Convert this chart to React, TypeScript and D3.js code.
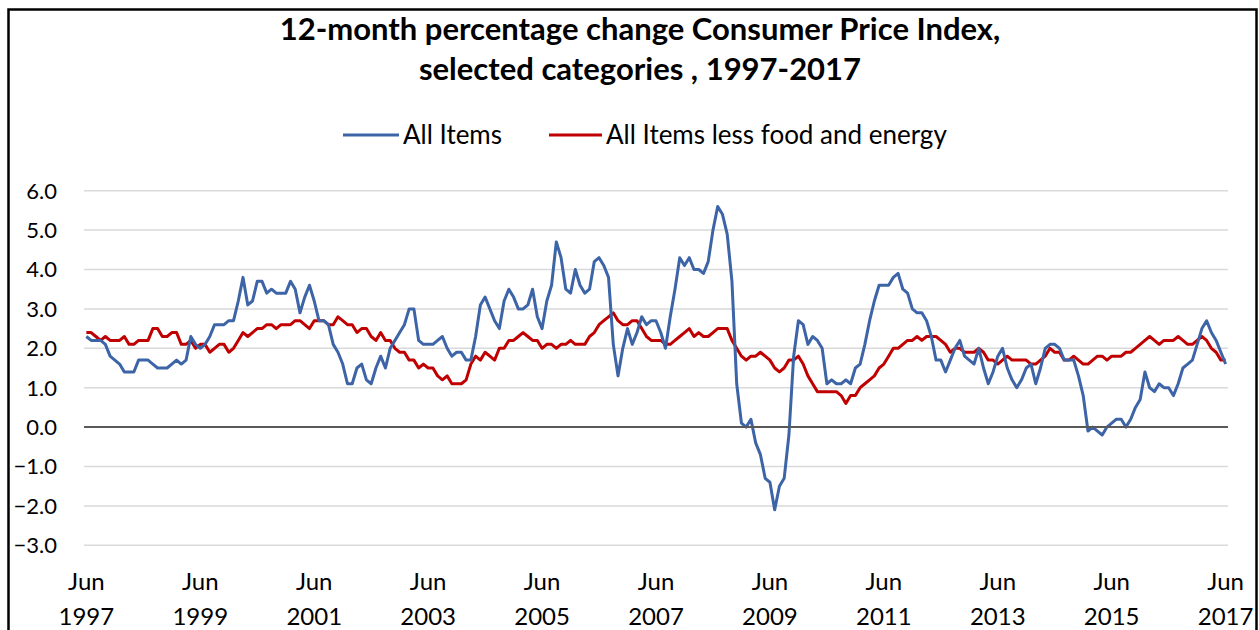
import * as d3 from 'd3';

// monthly 12-month % changes, Jun 1997 .. Jun 2017
const allItems = [
  2.3, 2.2, 2.2, 2.2, 2.1, 1.8, 1.7,
  1.6, 1.4, 1.4, 1.4, 1.7, 1.7, 1.7, 1.6, 1.5, 1.5, 1.5, 1.6,
  1.7, 1.6, 1.7, 2.3, 2.1, 2.0, 2.1, 2.3, 2.6, 2.6, 2.6, 2.7,
  2.7, 3.2, 3.8, 3.1, 3.2, 3.7, 3.7, 3.4, 3.5, 3.4, 3.4, 3.4,
  3.7, 3.5, 2.9, 3.3, 3.6, 3.2, 2.7, 2.7, 2.6, 2.1, 1.9, 1.6,
  1.1, 1.1, 1.5, 1.6, 1.2, 1.1, 1.5, 1.8, 1.5, 2.0, 2.2, 2.4,
  2.6, 3.0, 3.0, 2.2, 2.1, 2.1, 2.1, 2.2, 2.3, 2.0, 1.8, 1.9,
  1.9, 1.7, 1.7, 2.3, 3.1, 3.3, 3.0, 2.7, 2.5, 3.2, 3.5, 3.3,
  3.0, 3.0, 3.1, 3.5, 2.8, 2.5, 3.2, 3.6, 4.7, 4.3, 3.5, 3.4,
  4.0, 3.6, 3.4, 3.5, 4.2, 4.3, 4.1, 3.8, 2.1, 1.3, 2.0, 2.5,
  2.1, 2.4, 2.8, 2.6, 2.7, 2.7, 2.4, 2.0, 2.8, 3.5, 4.3, 4.1,
  4.3, 4.0, 4.0, 3.9, 4.2, 5.0, 5.6, 5.4, 4.9, 3.7, 1.1, 0.1,
  0.0, 0.2, -0.4, -0.7, -1.3, -1.4, -2.1, -1.5, -1.3, -0.2, 1.8, 2.7,
  2.6, 2.1, 2.3, 2.2, 2.0, 1.1, 1.2, 1.1, 1.1, 1.2, 1.1, 1.5,
  1.6, 2.1, 2.7, 3.2, 3.6, 3.6, 3.6, 3.8, 3.9, 3.5, 3.4, 3.0,
  2.9, 2.9, 2.7, 2.3, 1.7, 1.7, 1.4, 1.7, 2.0, 2.2, 1.8, 1.7,
  1.6, 2.0, 1.5, 1.1, 1.4, 1.8, 2.0, 1.5, 1.2, 1.0, 1.2, 1.5,
  1.6, 1.1, 1.5, 2.0, 2.1, 2.1, 2.0, 1.7, 1.7, 1.7, 1.3, 0.8,
  -0.1, 0.0, -0.1, -0.2, 0.0, 0.1, 0.2, 0.2, 0.0, 0.2, 0.5, 0.7,
  1.4, 1.0, 0.9, 1.1, 1.0, 1.0, 0.8, 1.1, 1.5, 1.6, 1.7, 2.1,
  2.5, 2.7, 2.4, 2.2, 1.9, 1.6,
];

const lessFoodEnergy = [
  2.4, 2.4, 2.3, 2.2, 2.3, 2.2, 2.2,
  2.2, 2.3, 2.1, 2.1, 2.2, 2.2, 2.2, 2.5, 2.5, 2.3, 2.3, 2.4,
  2.4, 2.1, 2.1, 2.2, 2.0, 2.1, 2.1, 1.9, 2.0, 2.1, 2.1, 1.9,
  2.0, 2.2, 2.4, 2.3, 2.4, 2.5, 2.5, 2.6, 2.6, 2.5, 2.6, 2.6,
  2.6, 2.7, 2.7, 2.6, 2.5, 2.7, 2.7, 2.7, 2.6, 2.6, 2.8, 2.7,
  2.6, 2.6, 2.4, 2.5, 2.5, 2.3, 2.2, 2.4, 2.2, 2.2, 2.0, 1.9,
  1.9, 1.7, 1.7, 1.5, 1.6, 1.5, 1.5, 1.3, 1.2, 1.3, 1.1, 1.1,
  1.1, 1.2, 1.6, 1.8, 1.7, 1.9, 1.8, 1.7, 2.0, 2.0, 2.2, 2.2,
  2.3, 2.4, 2.3, 2.2, 2.2, 2.0, 2.1, 2.1, 2.0, 2.1, 2.1, 2.2,
  2.1, 2.1, 2.1, 2.3, 2.4, 2.6, 2.7, 2.8, 2.9, 2.7, 2.6, 2.6,
  2.7, 2.7, 2.5, 2.3, 2.2, 2.2, 2.2, 2.1, 2.1, 2.2, 2.3, 2.4,
  2.5, 2.3, 2.4, 2.3, 2.3, 2.4, 2.5, 2.5, 2.5, 2.2, 2.0, 1.8,
  1.7, 1.8, 1.8, 1.9, 1.8, 1.7, 1.5, 1.4, 1.5, 1.7, 1.7, 1.8,
  1.6, 1.3, 1.1, 0.9, 0.9, 0.9, 0.9, 0.9, 0.8, 0.6, 0.8, 0.8,
  1.0, 1.1, 1.2, 1.3, 1.5, 1.6, 1.8, 2.0, 2.0, 2.1, 2.2, 2.2,
  2.3, 2.2, 2.3, 2.3, 2.3, 2.2, 2.1, 1.9, 2.0, 2.0, 1.9, 1.9,
  1.9, 2.0, 1.9, 1.7, 1.7, 1.6, 1.7, 1.8, 1.7, 1.7, 1.7, 1.7,
  1.6, 1.6, 1.7, 1.8, 2.0, 1.9, 1.9, 1.7, 1.7, 1.8, 1.7, 1.6,
  1.6, 1.7, 1.8, 1.8, 1.7, 1.8, 1.8, 1.8, 1.9, 1.9, 2.0, 2.1,
  2.2, 2.3, 2.2, 2.1, 2.2, 2.2, 2.2, 2.3, 2.2, 2.1, 2.1, 2.2,
  2.3, 2.2, 2.0, 1.9, 1.7, 1.7,
];

const xTickLabels = [
  ['Jun', '1997'], ['Jun', '1999'], ['Jun', '2001'], ['Jun', '2003'],
  ['Jun', '2005'], ['Jun', '2007'], ['Jun', '2009'], ['Jun', '2011'],
  ['Jun', '2013'], ['Jun', '2015'], ['Jun', '2017'],
];
const yTicks = [6, 5, 4, 3, 2, 1, 0, -1, -2, -3];

const seriesNames = ['All Items', 'All Items less food and energy'];
const BLUE = '#3c64a6';
const RED = '#c00000';
const FONT = 'Lato, "Open Sans", sans-serif';

export default function App() {
  const x = d3.scaleLinear().domain([-0.5, allItems.length - 0.5]).range([84, 1228]);
  const y = d3.scaleLinear().domain([-3, 6]).range([545.3, 190.7]);

  const line = d3.line<number>()
    .x((_, i) => x(i))
    .y(d => y(d));

  return (
    <>
      <style>{'body{margin:0;overflow:hidden}'}</style>
      <svg width={1259} height={630} style={{ display: 'block' }} fontFamily={FONT}>
        <rect x={0} y={0} width={1259} height={630} fill="#fff" />
        <rect x={8.5} y={9.5} width={1248} height={700} fill="none" stroke="#000" strokeWidth={2.5} />

        <text x={640} y={40} textAnchor="middle" fontSize={31} fontWeight="bold" fill="#000">
          12-month percentage change Consumer Price Index,
        </text>
        <text x={640} y={80} textAnchor="middle" fontSize={31} fontWeight="bold" fill="#000">
          selected categories , 1997-2017
        </text>

        {/* legend */}
        <line x1={343} x2={399} y1={135} y2={135} stroke={BLUE} strokeWidth={3} />
        <text x={403} y={144} fontSize={26} fill="#000">{seriesNames[0]}</text>
        <line x1={549} x2={602} y1={135} y2={135} stroke={RED} strokeWidth={3} />
        <text x={606} y={144} fontSize={26} fill="#000">{seriesNames[1]}</text>

        {/* gridlines */}
        {yTicks.filter(v => v !== 0).map(v => (
          <line key={v} x1={x.range()[0]} x2={x.range()[1]} y1={y(v)} y2={y(v)}
            stroke="#d9d9d9" strokeWidth={1.5} />
        ))}
        {yTicks.map(v => (
          <text key={v} x={57} y={y(v)} dy="0.36em" textAnchor="end" fontSize={22} fill="#000">
            {d3.format('.1f')(v)}
          </text>
        ))}

        <path d={line(lessFoodEnergy) ?? ''} fill="none" stroke={RED} strokeWidth={3}
          strokeLinejoin="round" />
        <path d={line(allItems) ?? ''} fill="none" stroke={BLUE} strokeWidth={3}
          strokeLinejoin="round" />

        <line x1={x.range()[0]} x2={x.range()[1]} y1={y(0)} y2={y(0)} stroke="#595959" strokeWidth={2} />

        {xTickLabels.map((lab, k) => (
          <text key={k} x={x(k * 24)} textAnchor="middle" fontSize={24} fill="#000">
            <tspan x={x(k * 24)} y={590}>{lab[0]}</tspan>
            <tspan x={x(k * 24)} y={625}>{lab[1]}</tspan>
          </text>
        ))}
      </svg>
    </>
  );
}
